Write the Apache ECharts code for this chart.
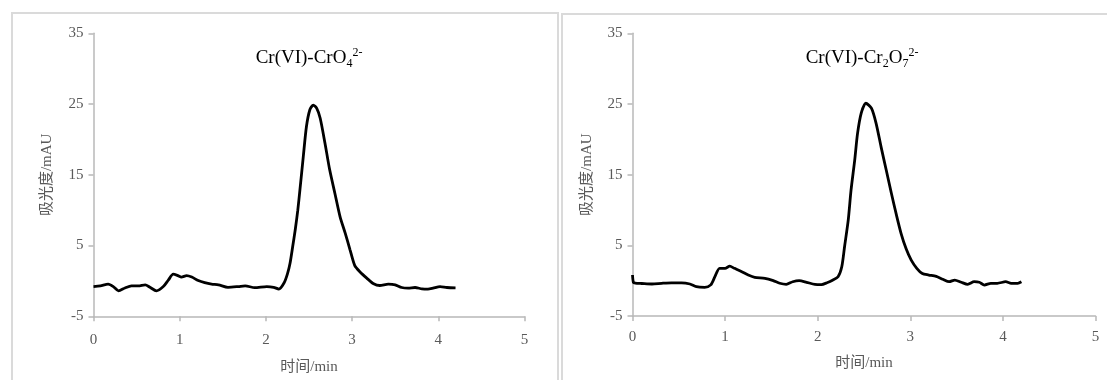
<!DOCTYPE html>
<html>
<head>
<meta charset="utf-8">
<script src="https://cdn.jsdelivr.net/npm/echarts@6/dist/echarts.min.js"></script>
<style>
  html, body { margin: 0; padding: 0; background: #fff; }
  #chart { width: 1107px; height: 380px; }
</style>
</head>
<body>
<div id="chart"></div>
<script>
// Chromatogram of chromate, CrO4(2-)
const timeCrO4 = [0, 0.08, 0.17, 0.23, 0.29, 0.365, 0.44, 0.52, 0.60, 0.655,
  0.73, 0.81, 0.87, 0.925, 0.98, 1.02, 1.08, 1.14, 1.215, 1.29,
  1.37, 1.45, 1.56, 1.68, 1.76, 1.87, 2.01, 2.09, 2.15, 2.21,
  2.25, 2.28, 2.31, 2.34, 2.37, 2.395, 2.434, 2.47, 2.51, 2.55,
  2.59, 2.63, 2.685, 2.74, 2.80, 2.86, 2.92, 2.976, 3.03, 3.09,
  3.17, 3.25, 3.32, 3.42, 3.50, 3.575, 3.65, 3.73, 3.81,
  3.88, 3.94, 4.02, 4.10, 4.20];
const absCrO4 = [-0.8, -0.7, -0.45, -0.8, -1.4, -1.0, -0.7, -0.7, -0.55, -0.9,
  -1.4, -0.8, 0.15, 0.95, 0.75, 0.55, 0.75, 0.55, 0.05, -0.25,
  -0.45, -0.55, -0.9, -0.8, -0.7, -0.95, -0.8, -0.9, -1.15, -0.3,
  1.0, 2.5, 4.8, 7.2, 10.0, 12.9, 17.6, 21.8, 24.2, 24.85,
  24.4, 23.0, 19.5, 15.7, 12.4, 9.1, 6.75, 4.4, 2.2, 1.3,
  0.4, -0.4, -0.65, -0.45, -0.55, -0.93, -1.02, -0.93, -1.12,
  -1.16, -1.02, -0.8, -0.93, -0.97];

// Chromatogram of dichromate, Cr2O7(2-)
const timeCr2O7 = [0, 0.01, 0.03, 0.10, 0.21, 0.315, 0.42, 0.53, 0.62, 0.69,
  0.78, 0.845, 0.89, 0.94, 1.00, 1.05, 1.10, 1.18, 1.25, 1.32,
  1.43, 1.52, 1.59, 1.66, 1.73, 1.80, 1.88, 1.97, 2.04, 2.10,
  2.16, 2.22, 2.26, 2.29, 2.33, 2.36, 2.40, 2.43, 2.47, 2.52,
  2.58, 2.63, 2.685, 2.74, 2.795, 2.85, 2.90, 2.955, 3.01, 3.07,
  3.13, 3.20, 3.28, 3.35, 3.42, 3.48, 3.55, 3.62, 3.69, 3.745,
  3.80, 3.87, 3.94, 4.03, 4.09, 4.16, 4.20];
const absCr2O7 = [0.8, -0.25, -0.35, -0.4, -0.47, -0.37, -0.3, -0.3, -0.47, -0.86,
  -0.94, -0.6, 0.56, 1.75, 1.75, 2.05, 1.75, 1.27, 0.8, 0.47,
  0.33, 0.0, -0.37, -0.52, -0.15, 0.0, -0.23, -0.52, -0.55, -0.3,
  0.05, 0.56, 1.97, 4.8, 8.6, 12.8, 17.1, 20.8, 23.7, 25.1,
  24.4, 22.3, 18.9, 15.65, 12.4, 9.3, 6.7, 4.5, 2.9, 1.75,
  1.0, 0.8, 0.6, 0.2, -0.15, 0.09, -0.23, -0.52, -0.15, -0.23,
  -0.62, -0.37, -0.37, -0.15, -0.37, -0.37, -0.15];

const yTicks = [-5, 5, 15, 25, 35];
const xName = '时间/min';
const yName = '吸光度/mAU';

const FONT = '"Liberation Serif", "Times New Roman", "Noto Sans CJK SC", serif';
const AXIS_GRAY = '#b8b8b8';
const LABEL_GRAY = '#595959';

const pairs = (xs, ys) => xs.map((x, i) => [x, ys[i]]);

function xAxisFor(gridIndex, nameGap, labelMargin) {
  return {
    type: 'value', gridIndex, min: 0, max: 5, interval: 1,
    name: xName, nameLocation: 'middle', nameGap,
    nameTextStyle: { fontFamily: FONT, fontSize: 15, color: LABEL_GRAY },
    axisLine: { show: true, onZero: false, lineStyle: { color: AXIS_GRAY, width: 1.5 } },
    axisTick: { show: true, length: 5, lineStyle: { color: AXIS_GRAY, width: 1.5 } },
    axisLabel: { fontFamily: FONT, fontSize: 15, color: LABEL_GRAY, margin: labelMargin },
    splitLine: { show: false }
  };
}

function yAxisFor(gridIndex, nameGap) {
  return {
    type: 'value', gridIndex, min: -5, max: 35,
    name: yName, nameLocation: 'middle', nameGap,
    nameTextStyle: { fontFamily: FONT, fontSize: 15, color: LABEL_GRAY },
    axisLine: { show: true, onZero: false, lineStyle: { color: AXIS_GRAY, width: 1.5 } },
    axisTick: { show: true, length: 5, customValues: yTicks, lineStyle: { color: AXIS_GRAY, width: 1.5 } },
    axisLabel: { fontFamily: FONT, fontSize: 15, color: LABEL_GRAY, margin: 10, customValues: yTicks },
    splitLine: { show: false }
  };
}

function titleText(x, text) {
  return {
    type: 'text', x, y: 58, z: 10,
    style: {
      text, align: 'center', verticalAlign: 'middle',
      fontFamily: FONT, fontSize: 19, fill: '#000',
      rich: {
        a: { fontFamily: FONT, fontSize: 19, lineHeight: 23, fill: '#000', color: '#000' },
        sub: { fontFamily: FONT, fontSize: 12, lineHeight: 12, verticalAlign: 'bottom', fill: '#000', color: '#000' },
        sup: { fontFamily: FONT, fontSize: 12, lineHeight: 14, verticalAlign: 'top', fill: '#000', color: '#000' }
      }
    }
  };
}

const chart = echarts.init(document.getElementById('chart'), null, { renderer: 'canvas' });

chart.setOption({
  backgroundColor: '#fff',
  animation: false,
  grid: [
    { left: 93.5, top: 33.3, width: 431, height: 283 },
    { left: 632.5, top: 33.3, width: 463, height: 282.7 }
  ],
  xAxis: [xAxisFor(0, 43, 16), xAxisFor(1, 40, 14)],
  yAxis: [yAxisFor(0, 39), yAxisFor(1, 37.5)],
  series: [
    {
      type: 'line', xAxisIndex: 0, yAxisIndex: 0,
      data: pairs(timeCrO4, absCrO4),
      showSymbol: false, smooth: 0.25,
      lineStyle: { color: '#000', width: 2.8 }
    },
    {
      type: 'line', xAxisIndex: 1, yAxisIndex: 1,
      data: pairs(timeCr2O7, absCr2O7),
      showSymbol: false, smooth: 0.25,
      lineStyle: { color: '#000', width: 2.8 }
    }
  ],
  graphic: [
    // panel frames
    { type: 'rect', shape: { x: 12, y: 13, width: 546, height: 400 },
      style: { fill: 'none', stroke: '#dadada', lineWidth: 2 } },
    { type: 'rect', shape: { x: 562, y: 14, width: 560, height: 400 },
      style: { fill: 'none', stroke: '#dadada', lineWidth: 2 } },
    titleText(309, '{a|Cr(VI)-CrO}{sub|4}{sup|2-}'),
    titleText(862, '{a|Cr(VI)-Cr}{sub|2}{a|O}{sub|7}{sup|2-}')
  ]
});
</script>
</body>
</html>
